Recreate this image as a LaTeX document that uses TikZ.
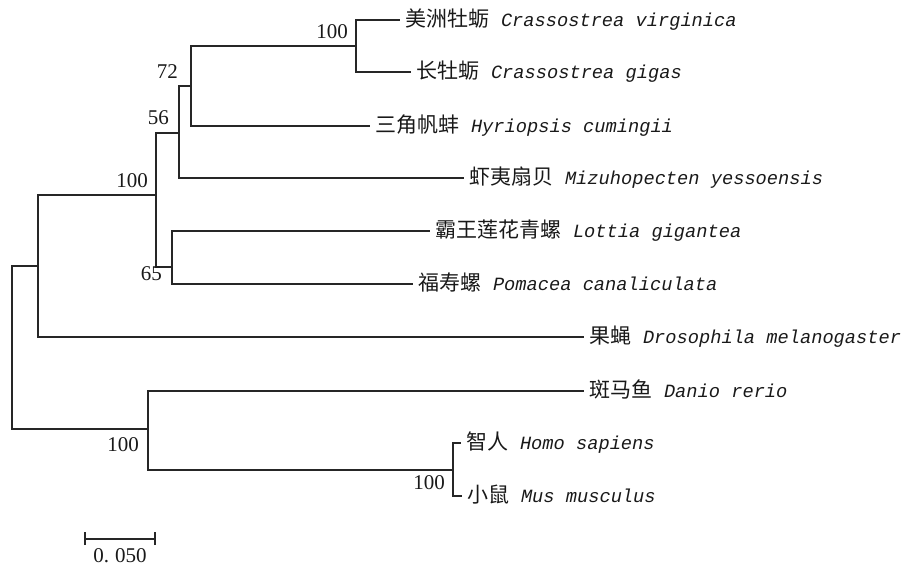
\documentclass[tikz,border=0pt]{standalone}
\usepackage{fontspec}
\newfontfamily\cjk{Noto Sans CJK SC}
\newfontfamily\lat{Liberation Mono}
\newfontfamily\numf{Liberation Serif}
\tikzset{
  branch/.style={line width=1.3pt, draw=black!85},
  leaf/.style={anchor=west, inner xsep=5pt, inner ysep=0pt, outer sep=0pt, text height=17pt, text depth=5pt, text=black!90},
  boot/.style={anchor=base east, inner sep=0pt, font=\numf\fontsize{21}{21}\selectfont, text=black!90},
}
\newcommand{\spname}[2]{{\cjk\fontsize{21}{21}\selectfont #1}\hspace{12pt}{\lat\itshape\fontsize{18.7}{18.7}\selectfont #2}}
\begin{document}
\begin{tikzpicture}[x=1pt,y=-1pt]
\useasboundingbox (0,0) rectangle (908,568);
% internal nodes
\coordinate (n0) at (12,347);
\coordinate (nA) at (38,266);
\coordinate (nB) at (156,195);
\coordinate (nC) at (179,133);
\coordinate (nD) at (191,86);
\coordinate (nE) at (356,46);
\coordinate (nF) at (172,267);
\coordinate (nG) at (148,429);
\coordinate (nH) at (453,470);
% leaves
\node[leaf] (l1) at (400,20) {\spname{美洲牡蛎}{Crassostrea virginica}};
\node[leaf] (l2) at (411,72) {\spname{长牡蛎}{Crassostrea gigas}};
\node[leaf] (l3) at (370,126) {\spname{三角帆蚌}{Hyriopsis cumingii}};
\node[leaf] (l4) at (464,178) {\spname{虾夷扇贝}{Mizuhopecten yessoensis}};
\node[leaf] (l5) at (430,231) {\spname{霸王莲花青螺}{Lottia gigantea}};
\node[leaf] (l6) at (413,284) {\spname{福寿螺}{Pomacea canaliculata}};
\node[leaf] (l7) at (584,337) {\spname{果蝇}{Drosophila melanogaster}};
\node[leaf] (l8) at (584,391) {\spname{斑马鱼}{Danio rerio}};
\node[leaf] (l9) at (461,443) {\spname{智人}{Homo sapiens}};
\node[leaf] (l10) at (462,496) {\spname{小鼠}{Mus musculus}};
% branches
\draw[branch] (n0) |- (nA);
\draw[branch] (n0) |- (nG);
\draw[branch] (nA) |- (nB);
\draw[branch] (nA) |- (l7.west);
\draw[branch] (nB) |- (nC);
\draw[branch] (nB) |- (nF);
\draw[branch] (nC) |- (nD);
\draw[branch] (nC) |- (l4.west);
\draw[branch] (nD) |- (nE);
\draw[branch] (nD) |- (l3.west);
\draw[branch] (nE) |- (l1.west);
\draw[branch] (nE) |- (l2.west);
\draw[branch] (nF) |- (l5.west);
\draw[branch] (nF) |- (l6.west);
\draw[branch] (nG) |- (l8.west);
\draw[branch] (nG) |- (nH);
\draw[branch] (nH) |- (l9.west);
\draw[branch] (nH) |- (l10.west);
% bootstrap values
\node[boot] (bE) at (348,38) {100};
\node[boot] (bD) at (178,78) {72};
\node[boot] (bC) at (169,124) {56};
\node[boot] (bB) at (148,187) {100};
\node[boot] (bF) at (162,280) {65};
\node[boot] (bG) at (139,451) {100};
\node[boot] (bH) at (445,489) {100};
% scale bar
\coordinate (s1) at (85,539);
\coordinate (s2) at (155,539);
\draw[branch, line width=1.1pt] (s1) -- (s2);
\draw[branch, line width=1.1pt] ([yshift=-6pt]s1) -- ([yshift=7pt]s1);
\draw[branch, line width=1.1pt] ([yshift=-6pt]s2) -- ([yshift=7pt]s2);
\node[anchor=base, inner sep=0pt, font=\numf\fontsize{21}{21}\selectfont, text=black!90] (sl) at (120,562) {0.\kern6pt050};
\end{tikzpicture}
\end{document}
